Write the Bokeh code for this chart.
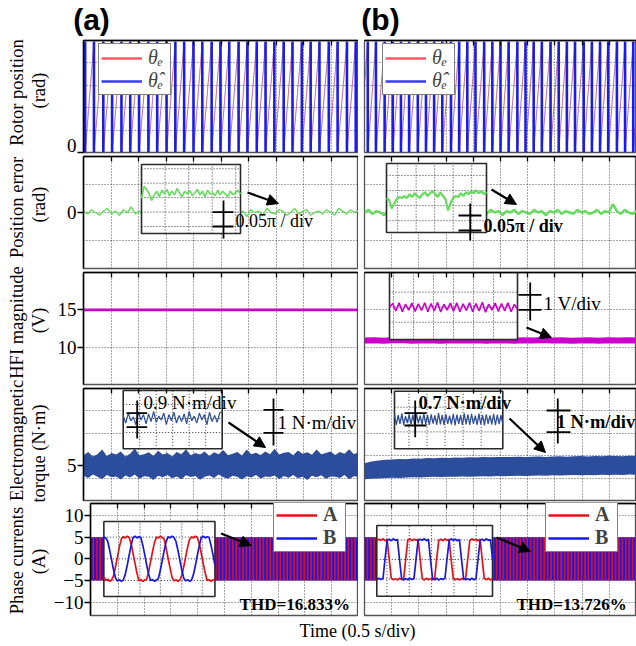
import numpy as np
from bokeh.plotting import figure
from bokeh.layouts import row, column
from bokeh.models import Range1d, FixedTicker, Label, Arrow, NormalHead, Legend, LegendItem
from bokeh.embed import file_html
from bokeh.resources import INLINE

SERIF = "Liberation Serif"
SANS = "Liberation Sans"

# ============================ data ============================
panel_titles = ["(a)", "(b)"]
row_label_1 = ["Rotor position", "Position error", "HFI magnitude", "Electromagnetic", "Phase currents"]
row_label_2 = ["(rad)", "(rad)", "(V)", "torque (N\u00b7m)", "(A)"]
x_label = "Time (0.5 s/div)"

time_span = [0.0, 5.0]
div_ticks = [0.5, 1.0, 1.5, 2.0, 2.5, 3.0, 3.5, 4.0, 4.5]

y_ranges = [[0.0, 6.35], [-0.4, 0.4], [5.0, 20.0], [3.46, 8.39], [-13.1, 12.8]]
y_ticks = [[0], [0], [10, 15], [5], [-10, -5, 0, 5, 10]]
y_grid = [[1.27, 2.54, 3.81, 5.08], [-0.2, 0.0, 0.2], [10, 15], [4.44, 5.43, 6.41, 7.40], [-10, -5, 0, 5, 10]]

# rotor position (sawtooth resets, s)
rotor_top = 6.283
rotor_drops_a = [0.03, 0.19, 0.36, 0.52, 0.69, 0.85, 1.01, 1.18, 1.34, 1.51, 1.67, 1.83, 2.00, 2.16, 2.33, 2.49,
                 2.65, 2.82, 2.98, 3.15, 3.31, 3.47, 3.64, 3.80, 3.97, 4.13, 4.29, 4.46, 4.62, 4.79, 4.95]
rotor_ends_a = [6.0, 1.9]
rotor_drops_b = [0.06, 0.21, 0.37, 0.52, 0.67, 0.82, 0.98, 1.13, 1.28, 1.43, 1.59, 1.74, 1.89, 2.04, 2.20, 2.35,
                 2.50, 2.65, 2.81, 2.96, 3.11, 3.26, 3.42, 3.57, 3.72, 3.87, 4.03, 4.18, 4.33, 4.48, 4.64, 4.79, 4.94]
rotor_ends_b = [3.8, 2.5]
rotor_legend = ["\u03b8\u2091", "\u03b8\u0302\u2091"]

# position error (rad)
perr_a = [0.01, -0.01, 0.02, 0.00, -0.02, 0.01, 0.03, -0.01, 0.01, -0.02, 0.02, 0.00, 0.04, -0.01, 0.01, -0.02,
          0.00, 0.02, -0.01, 0.01, 0.00, -0.02, 0.02, 0.01, -0.01, 0.03, 0.00, -0.02, 0.01, 0.02, -0.01, 0.00,
          0.02, -0.02, 0.01, 0.03, -0.01, 0.00, 0.02, -0.01, 0.01, -0.03, 0.02, 0.00, 0.01, -0.02, 0.03, 0.00,
          -0.01, 0.02, 0.01, -0.02, 0.00, 0.03, -0.01, 0.01, 0.02, -0.02, 0.00, 0.01, -0.01, 0.02, 0.00, -0.02,
          0.03, 0.01, -0.01, 0.02, 0.00, 0.01]
perr_b = [0.00, 0.02, -0.01, 0.01, 0.00, -0.02, 0.02, 0.01, -0.01, 0.00, 0.02, -0.01, 0.01, 0.00, -0.02, 0.01,
          0.02, 0.00, -0.01, 0.01, 0.00, 0.02, -0.01, 0.01, 0.00, -0.02, 0.01, 0.02, -0.01, 0.00, 0.01, -0.01,
          0.02, 0.00, 0.01, -0.02, 0.01, 0.00, 0.02, -0.01, 0.01, 0.00, -0.01, 0.02, 0.00, 0.01, -0.02, 0.01,
          0.00, 0.02, -0.01, 0.01, 0.00, -0.01, 0.02, 0.00, 0.01, -0.01, 0.00, 0.02, -0.01, 0.01, 0.00, 0.06,
          0.01, -0.01, 0.02, 0.00, -0.01, 0.01]
perr_in_a = [-0.01, 0.12, 0.09, 0.04, -0.03, 0.03, 0.07, 0.01, 0.08, 0.04, 0.09, 0.02, 0.07, 0.03, 0.10, 0.05,
             0.01, 0.07, 0.04, 0.08, 0.02, 0.05, 0.09, 0.03, 0.07, 0.01, 0.08, 0.04, 0.05, 0.02, 0.08, 0.03,
             0.07, 0.04, 0.01, 0.07, 0.03, 0.05, 0.08, 0.04]
perr_in_b = [0.08, 0.06, -0.03, 0.02, 0.07, 0.09, 0.08, 0.10, 0.08, 0.12, 0.09, 0.13, 0.10, 0.08, 0.12, 0.14,
             0.10, 0.13, 0.15, 0.12, 0.09, 0.14, 0.10, 0.07, -0.05, 0.03, 0.08, 0.10, 0.09, 0.13, 0.10, 0.14,
             0.12, 0.15, 0.13, 0.16, 0.13, 0.15, 0.12, 0.14]
perr_scale_text = "0.05\u03c0 / div"

# HFI magnitude (V)
hfi_a = [15.0, 15.0]
hfi_b = [10.88, 10.93, 10.86, 10.91, 10.95, 10.87, 10.90, 10.92, 10.85, 10.90, 10.94, 10.88, 10.91, 10.86, 10.93,
         10.90, 10.87, 10.92, 10.89, 10.95, 10.88, 10.91, 10.86, 10.90, 10.93, 10.87, 10.92, 10.89, 10.91, 10.90]
hfi_in_b = [11.0, 11.25, 10.75, 11.3, 10.7, 11.2, 10.8, 11.28, 10.72, 11.22, 10.78, 11.3, 10.7, 11.25, 10.75,
            11.32, 10.68, 11.2, 10.8, 11.27, 10.73, 11.3, 10.7, 11.22, 10.78, 11.3, 10.7, 11.25, 10.75, 11.33,
            10.67, 11.2, 10.8, 11.28, 10.72, 11.25, 10.75, 11.3, 10.7, 11.2, 10.85]
hfi_scale_text = "1 V/div"

# electromagnetic torque (N.m): band envelopes and inset traces
tq_hi_a = [5.45, 5.6, 5.4, 5.5, 5.7, 5.42, 5.55, 5.48, 5.62, 5.4, 5.52, 5.75, 5.45, 5.5, 5.58, 5.42, 5.65, 5.48,
           5.55, 5.4, 5.6, 5.5, 5.72, 5.45, 5.55, 5.48, 5.62, 5.42, 5.58, 5.5, 5.68, 5.45, 5.52, 5.6, 5.44, 5.7,
           5.5, 5.56, 5.46, 5.62, 5.5, 5.74, 5.48, 5.56, 5.6, 5.45, 5.66, 5.52, 5.58, 5.47, 5.7, 5.5, 5.55, 5.62,
           5.46, 5.6, 5.52, 5.72, 5.5, 5.58]
tq_lo_a = [4.55, 4.45, 4.6, 4.5, 4.4, 4.58, 4.48, 4.52, 4.38, 4.56, 4.47, 4.6, 4.42, 4.53, 4.5, 4.36, 4.55, 4.48,
           4.58, 4.44, 4.52, 4.4, 4.57, 4.49, 4.54, 4.37, 4.5, 4.56, 4.45, 4.6, 4.48, 4.42, 4.55, 4.5, 4.38, 4.53,
           4.47, 4.58, 4.43, 4.52, 4.49, 4.56, 4.4, 4.54, 4.46, 4.58, 4.44, 4.5, 4.36, 4.55, 4.48, 4.57, 4.42,
           4.52, 4.5, 4.45, 4.58, 4.4, 4.53, 4.5]
tq_hi_b = [5.10, 5.18, 5.22, 5.25, 5.27, 5.29, 5.28, 5.31, 5.30, 5.33, 5.32, 5.34, 5.33, 5.35, 5.34, 5.36, 5.35,
           5.37, 5.36, 5.38, 5.37, 5.38, 5.39, 5.37, 5.39, 5.40, 5.38, 5.40, 5.41, 5.39, 5.41, 5.42, 5.40, 5.42,
           5.41, 5.43, 5.42, 5.41, 5.43, 5.42]
tq_lo_b = [4.40, 4.42, 4.43, 4.45, 4.46, 4.45, 4.47, 4.48, 4.47, 4.49, 4.50, 4.49, 4.51, 4.50, 4.52, 4.51, 4.52,
           4.53, 4.52, 4.54, 4.53, 4.54, 4.55, 4.54, 4.55, 4.56, 4.55, 4.57, 4.56, 4.57, 4.58, 4.57, 4.58, 4.57,
           4.59, 4.58, 4.59, 4.58, 4.60, 4.59]
tq_in_a = [5.2, 4.7, 5.35, 4.85, 5.1, 4.6, 5.4, 4.9, 5.25, 4.65, 5.3, 4.8, 5.45, 4.75, 5.15, 4.9, 5.35, 4.6, 5.25,
           4.85, 5.4, 4.7, 5.2, 4.8, 5.3, 4.65, 5.45, 4.85, 5.15, 4.7, 5.35, 4.9, 5.25, 4.6, 5.4, 4.8, 5.2, 4.75,
           5.35, 5.45]
tq_in_b = [5.3, 4.7, 5.25, 4.75, 5.35, 4.68, 5.2, 4.8, 5.3, 4.72, 5.28, 4.66, 5.32, 4.78, 5.22, 4.7, 5.34, 4.74,
           5.26, 4.69, 5.3, 4.77, 5.24, 4.7, 5.36, 4.72, 5.27, 4.68, 5.31, 4.76, 5.23, 4.71, 5.33, 4.67, 5.28, 4.75,
           5.25, 4.7, 5.35, 4.73, 5.29, 4.69, 5.32, 4.76, 5.22, 4.7, 5.34, 4.72, 5.27, 4.67, 5.3, 4.75, 5.24, 4.71,
           5.33, 4.68, 5.28, 4.74, 5.26, 4.7]
tq_in_text = ["0.9 N\u00b7m/div", "0.7 N\u00b7m/div"]
tq_scale_text = "1 N\u00b7m/div"

# phase currents (A)
cur_band = [-5.0, 5.0]
cur_in_a_A = [-4.2, -5.0, -4.7, -5.2, -4.9, -3.9, -1.8, 0.5, 2.8, 4.6, 5.1, 4.8, 5.2, 4.9, 3.4, 1.2, -1.1, -3.3,
              -5.1, -4.8, -5.2, -4.9, -4.7, -2.9, -0.6, 1.7, 3.8, 5.0, 4.8, 5.2, 4.9, 4.5, 2.3, 0.0, -2.2, -4.3,
              -5.1, -4.8, -5.2, -4.9, -3.8, -1.8, 0.5, 2.7, 4.5, 5.1, 4.8, 5.2, 4.9, 3.4, 1.2, -1.1, -3.3, -5.0,
              -4.8, -5.2, -4.9, -4.7]
cur_in_a_B = [5.0, 4.8, 4.0, 2.0, -0.3, -2.6, -4.5, -5.1, -4.8, -5.2, -4.9, -3.6, -1.5, 0.9, 3.1, 4.9, 5.2, 4.8,
              5.1, 4.9, 3.1, 0.9, -1.5, -3.6, -5.0, -4.8, -5.2, -4.9, -4.5, -2.6, -0.3, 2.0, 4.0, 5.1, 4.8, 5.2,
              4.9, 4.0, 2.0, -0.3, -2.6, -4.5, -5.1, -4.8, -5.2, -4.9, -3.6, -1.5, 0.9, 3.1, 4.9, 5.2, 4.8, 5.1,
              4.9, 3.1, 0.9, -1.5]
cur_in_b_A = [4.8, 5.2, 4.9, 5.3, 4.8, 5.1, 0.2, -4.8, -5.2, -4.9, -5.3, -4.8, -5.1, -4.9, 0.1,
              5.0, 5.3, 4.8, 5.2, 4.9, 5.2, 0.0, -4.9, -5.3, -4.8, -5.2, -4.9, -5.2, -4.8, 0.3,
              4.9, 5.2, 4.8, 5.3, 4.9, 5.1, -0.2, -4.8, -5.2, -4.9, -5.3, -4.9, -5.1, -4.8, 0.0,
              4.8, 5.3, 4.9, 5.2, 4.8, 5.2, 0.1, -4.9, -5.2, -4.8, -5.3, -4.9]
cur_in_b_B = [-5.2, -4.8, -5.1, -4.9, 0.2,
              4.9, 5.2, 4.8, 5.3, 4.9, 5.1, 0.0, -4.8, -5.3, -4.9, -5.2, -4.8, -5.1, -4.9, 0.1,
              5.0, 5.2, 4.9, 5.3, 4.8, 5.2, -0.1, -4.9, -5.2, -4.8, -5.3, -4.9, -5.1, -4.8, 0.2,
              4.8, 5.3, 4.9, 5.2, 4.8, 5.1, 0.1, -4.8, -5.2, -4.9, -5.3, -4.8, -5.2, -4.9, 0.0,
              4.9, 5.2, 4.8, 5.3, 4.9, 5.1, 0.2, -4.8]
cur_legend = ["A", "B"]
thd_text = ["THD=16.833%", "THD=13.726%"]

# ================================ styling / layout ================================
ROT_RED, ROT_BLUE = "#f2404f", "#1c1ce8"
LEG_RED, LEG_BLUE = "#ff5a64", "#3a3aff"
GREEN = "#64dc5c"
MAGENTA = "#cc00cc"
TQ_BLUE = "#2c4c9c"
CUR_RED, CUR_BLUE = "#e51018", "#1818e0"

LAB_W, HEAD_H, FOOT_H = 50, 39, 29
FIG_W = [308, 278]
BORDER_L = [33, 6]
ROW_H = [116, 116, 116, 115, 115]
COLX = [(83, 358), (364, 636)]
ROWY = [(40, 152), (156, 268), (272, 384), (388, 500), (503, 615)]


def dx(c, px):
    x0, x1 = COLX[c]
    return time_span[0] + (px - x0) / (x1 - x0) * (time_span[1] - time_span[0])


def dy(r, py):
    top, bot = ROWY[r]
    lo, hi = y_ranges[r]
    return hi - (py - top) / (bot - top) * (hi - lo)


def make_panel(c, r):
    lo, hi = y_ranges[r]
    fig_top = HEAD_H + sum(ROW_H[:r])
    p = figure(width=FIG_W[c], height=ROW_H[r], x_range=Range1d(*time_span), y_range=Range1d(lo, hi),
               x_axis_location="above", y_axis_location="left", tools="", toolbar_location=None,
               output_backend="svg", min_border_left=BORDER_L[c], min_border_right=0,
               min_border_top=ROWY[r][0] - fig_top, min_border_bottom=fig_top + ROW_H[r] - ROWY[r][1],
               background_fill_color="white", border_fill_color="white",
               outline_line_color="#555555", outline_line_width=1.3)
    xa = p.xaxis[0]
    xa.ticker = FixedTicker(ticks=div_ticks, minor_ticks=[])
    xa.major_tick_in = 5
    xa.major_tick_out = 0
    xa.major_label_text_font_size = "1px"
    xa.major_label_text_alpha = 0
    xa.major_label_standoff = 0
    xa.axis_line_color = "black"
    xa.axis_line_width = 1.3
    xa.major_tick_line_color = "black"
    xa.major_tick_line_width = 1.3
    ya = p.yaxis[0]
    ya.ticker = FixedTicker(ticks=y_ticks[r], minor_ticks=[])
    if c == 0:
        ya.major_tick_in = 0
        ya.major_tick_out = 6
        ya.major_label_standoff = 1
        ya.major_label_text_font = SERIF
        ya.major_label_text_font_size = "19px"
        ya.major_label_text_color = "black"
        ya.axis_line_color = "black"
        ya.axis_line_width = 1.5
        ya.major_tick_line_color = "black"
        ya.major_tick_line_width = 1.5
    else:
        ya.visible = False
    p.xgrid.ticker = FixedTicker(ticks=div_ticks)
    p.ygrid.ticker = FixedTicker(ticks=y_grid[r])
    p.grid.grid_line_color = "#333333"
    p.grid.grid_line_dash = "1 2"
    p.grid.grid_line_width = 1
    p.grid.grid_line_alpha = 0.85
    return p


def add_inset(p, c, r, box, ixr, iyr, gx, gy):
    left, right, top, bottom = box
    bx0, bx1 = dx(c, left), dx(c, right)
    by0, by1 = dy(r, bottom), dy(r, top)
    lo, hi = y_ranges[r]
    sx = (ixr[1] - ixr[0]) / (bx1 - bx0)
    sy = (iyr[1] - iyr[0]) / (by1 - by0)
    p.extra_x_ranges = {"ix": Range1d(ixr[0] - (bx0 - time_span[0]) * sx, ixr[0] + (time_span[1] - bx0) * sx)}
    p.extra_y_ranges = {"iy": Range1d(iyr[0] - (by0 - lo) * sy, iyr[0] + (hi - by0) * sy)}
    kw = dict(x_range_name="ix", y_range_name="iy")
    p.quad(left=[ixr[0]], right=[ixr[1]], bottom=[iyr[0]], top=[iyr[1]], fill_color="white",
           line_color="#2a2a2a", line_width=1.6, **kw)
    p.segment(x0=gx, y0=[iyr[0]] * len(gx), x1=gx, y1=[iyr[1]] * len(gx), line_color="#333333",
              line_dash="1 2", line_width=1, **kw)
    p.segment(x0=[ixr[0]] * len(gy), y0=gy, x1=[ixr[1]] * len(gy), y1=gy, line_color="#333333",
              line_dash="1 2", line_width=1, **kw)
    return kw


def scale_marker(p, c, r, vx, vy0, vy1, bx0, bx1, bars):
    p.segment(x0=[dx(c, vx)], y0=[dy(r, vy0)], x1=[dx(c, vx)], y1=[dy(r, vy1)], line_color="black", line_width=1.8)
    p.segment(x0=[dx(c, bx0)] * len(bars), y0=[dy(r, b) for b in bars], x1=[dx(c, bx1)] * len(bars),
              y1=[dy(r, b) for b in bars], line_color="black", line_width=1.8)


def txt(p, c, r, px, py, s, size="19px", bold=False):
    p.add_layout(Label(x=dx(c, px), y=dy(r, py), text=s, text_font=SERIF, text_font_size=size,
                       text_font_style="bold" if bold else "normal", text_align="left",
                       text_baseline="middle", text_color="black"))


def arrow(p, c, r, x0, y0, x1, y1):
    p.add_layout(Arrow(x_start=dx(c, x0), y_start=dy(r, y0), x_end=dx(c, x1), y_end=dy(r, y1),
                       line_color="black", line_width=2.2,
                       end=NormalHead(size=11, fill_color="black", line_color="black", line_width=1)))


def add_legend(p, r, labels, colors, loc, font, style, size):
    items = []
    lo = y_ranges[r][0]
    for lab, col in zip(labels, colors):
        # one-sample proxy renderer (draws nothing by itself) that gives the legend its line style
        rr = p.line(x=[time_span[0]], y=[lo], line_color=col, line_width=2.6)
        items.append(LegendItem(label=lab, renderers=[rr]))
    p.add_layout(Legend(items=items, location=loc, orientation="vertical", label_text_font=font,
                        label_text_font_size=size, label_text_font_style=style, glyph_width=41,
                        glyph_height=18, label_height=18, label_standoff=6, padding=2, spacing=0, margin=0,
                        border_line_color="black", border_line_width=1.3, background_fill_color="white",
                        background_fill_alpha=1.0), "center")


def sawtooth(drops, ends):
    xs, ys = [time_span[0]], [ends[0]]
    for t in drops:
        xs += [t, t]
        ys += [rotor_top, 0.0]
    xs.append(time_span[1])
    ys.append(ends[1])
    return xs, ys


panels = [[make_panel(c, r) for c in range(2)] for r in range(5)]

# ---- row 1: rotor position ----
for c, (drops, ends, loc) in enumerate([(rotor_drops_a, rotor_ends_a, (15, 57)),
                                        (rotor_drops_b, rotor_ends_b, (18, 57))]):
    p = panels[0][c]
    xs, ys = sawtooth(drops, ends)
    p.line(xs, ys, line_color=ROT_RED, line_width=1.0, line_alpha=0.55)
    p.line(xs, ys, line_color=ROT_BLUE, line_width=0.8, line_alpha=0.35)
    p.segment(x0=drops, y0=[0.0] * len(drops), x1=drops, y1=[rotor_top] * len(drops),
              line_color=ROT_BLUE, line_width=2.6)
    add_legend(p, 0, rotor_legend, [LEG_RED, LEG_BLUE], loc, SERIF, "italic", "20px")

# ---- row 2: position error ----
p = panels[1][0]
p.line(np.linspace(*time_span, len(perr_a)), perr_a, line_color=GREEN, line_width=1.4)
kw = add_inset(p, 0, 1, (141, 240, 164, 233), (0.0, 4.2), (-0.39, 0.36), [1, 2, 3, 4],
               [-0.314, -0.157, 0.0, 0.157, 0.314])
p.line(np.linspace(0.0, 4.2, len(perr_in_a)), perr_in_a, line_color=GREEN, line_width=1.6, **kw)
scale_marker(p, 0, 1, 223, 200, 238, 212, 233, [211.7, 226])
txt(p, 0, 1, 235, 220.7, perr_scale_text, "18px")
arrow(p, 0, 1, 247, 192, 278, 203)

p = panels[1][1]
p.line(np.linspace(*time_span, len(perr_b)), perr_b, line_color=GREEN, line_width=2.4)
kw = add_inset(p, 1, 1, (386, 486, 163, 232), (0.0, 5.4), (-0.28, 0.44), [0.6, 1.6, 2.6, 3.6, 4.6],
               [-0.157, 0.0, 0.157, 0.314])
p.line(np.linspace(0.0, 5.4, len(perr_in_b)), perr_in_b, line_color=GREEN, line_width=2.2, **kw)
scale_marker(p, 1, 1, 469.7, 203, 240, 458, 481, [215, 230])
txt(p, 1, 1, 483, 225, perr_scale_text, "18px", bold=True)
arrow(p, 1, 1, 491, 189, 516, 204)

# ---- row 3: HFI magnitude ----
p = panels[2][0]
p.line(time_span, hfi_a, line_color=MAGENTA, line_width=2.6)

p = panels[2][1]
p.line(np.linspace(*time_span, len(hfi_b)), hfi_b, line_color=MAGENTA, line_width=6)
kw = add_inset(p, 1, 2, (389, 517, 272, 339), (0.0, 6.4), (8.85, 13.31), [0.2, 1.2, 2.2, 3.2, 4.2, 5.2],
               [10.0, 11.0, 12.0])
p.line(np.linspace(0.0, 6.4, len(hfi_in_b)), hfi_in_b, line_color=MAGENTA, line_width=1.6, **kw)
scale_marker(p, 1, 2, 529.7, 282, 320, 518, 541, [294.3, 309.3])
txt(p, 1, 2, 543, 303, hfi_scale_text, "19px")
arrow(p, 1, 2, 526, 327, 551, 337)

# ---- row 4: electromagnetic torque ----
p = panels[3][0]
p.varea(x=np.linspace(*time_span, len(tq_hi_a)), y1=tq_lo_a, y2=tq_hi_a, fill_color=TQ_BLUE)
kw = add_inset(p, 0, 3, (122.7, 221.7, 390, 448.3), (0.0, 6.0), (3.05, 6.8), [1, 2, 3, 4, 5],
               [4.1, 5.0, 5.9])
p.line(np.linspace(0.0, 6.0, len(tq_in_a)), tq_in_a, line_color=TQ_BLUE, line_width=1.2, **kw)
scale_marker(p, 0, 3, 136.7, 400, 438, 126, 146.7, [412.7, 426.7])
txt(p, 0, 3, 143, 401.7, tq_in_text[0], "19px")
scale_marker(p, 0, 3, 273, 398, 445, 263, 283, [409.3, 432.3])
txt(p, 0, 3, 277, 421.7, tq_scale_text, "19px")
arrow(p, 0, 3, 228, 422, 265, 447)

p = panels[3][1]
p.varea(x=np.linspace(*time_span, len(tq_hi_b)), y1=tq_lo_b, y2=tq_hi_b, fill_color=TQ_BLUE)
kw = add_inset(p, 1, 3, (394, 502.3, 390.7, 448.3), (0.0, 6.0), (3.34, 6.61), [0.8, 1.8, 2.8, 3.8, 4.8],
               [4.3, 5.0, 5.7])
p.line(np.linspace(0.0, 6.0, len(tq_in_b)), tq_in_b, line_color=TQ_BLUE, line_width=1.2, **kw)
scale_marker(p, 1, 3, 414.7, 400, 436.7, 404, 426, [412.7, 425])
txt(p, 1, 3, 418, 402.7, tq_in_text[1], "18.5px", bold=True)
scale_marker(p, 1, 3, 557.3, 398, 443, 546, 570, [410, 431.7])
txt(p, 1, 3, 556, 421.7, tq_scale_text, "18.5px", bold=True)
arrow(p, 1, 3, 509, 418, 545, 452)

# ---- row 5: phase currents ----
cur_cfg = [
    dict(box=(96.7, 210.7, 521, 596), iyr=(-8.7, 8.6), gx=[15, 37, 58, 80, 101], A=cur_in_a_A, B=cur_in_a_B,
         arrow=(217, 533, 248, 545), leg=(183, 63), thd_x=236),
    dict(box=(376.3, 492, 525, 595.7), iyr=(-9.4, 8.7), gx=[10, 32, 54, 76, 98], A=cur_in_b_A, B=cur_in_b_B,
         arrow=(496, 537, 530, 551), leg=(181, 63), thd_x=516),
]
for c, cfg in enumerate(cur_cfg):
    p = panels[4][c]
    p.quad(left=[time_span[0]], right=[time_span[1]], bottom=[cur_band[0]], top=[cur_band[1]],
           fill_color=CUR_BLUE, line_color=None, hatch_pattern="|", hatch_color=CUR_RED,
           hatch_scale=3.4, hatch_weight=1.7, hatch_alpha=1.0)
    kw = add_inset(p, c, 4, cfg["box"], (0.0, 114.0), cfg["iyr"], cfg["gx"], [-5.0, 0.0, 5.0])
    t_in = np.linspace(0.0, 114.0, len(cfg["A"]))
    p.line(t_in, cfg["A"], line_color=CUR_RED, line_width=1.7, **kw)
    p.line(t_in, cfg["B"], line_color=CUR_BLUE, line_width=1.7, **kw)
    arrow(p, c, 4, *cfg["arrow"])
    add_legend(p, 4, cur_legend, [CUR_RED, CUR_BLUE], cfg["leg"], SERIF, "bold", "20px")
    txt(p, c, 4, cfg["thd_x"], 604, thd_text[c], "17px", bold=True)


# ---- frame figures: row labels, panel titles, time label ----
def blank(width, height, xr, yr):
    f = figure(width=width, height=height, x_range=Range1d(*xr), y_range=Range1d(*yr), tools="",
               toolbar_location=None, output_backend="svg", min_border=0, outline_line_color=None,
               background_fill_color="white", border_fill_color="white")
    f.axis.visible = False
    f.grid.visible = False
    return f


lab = blank(LAB_W, 646, (0, LAB_W), (646, 0))
centers_1 = [92, 207, 322, 440, 560]
centers_2 = [90, 204, 320, 453, 561]
for r in range(5):
    lab.add_layout(Label(x=16, y=centers_1[r], text=row_label_1[r], angle=np.pi / 2, text_align="center",
                         text_baseline="middle", text_font=SERIF, text_font_size="18.5px", text_color="black"))
    lab.add_layout(Label(x=38, y=centers_2[r], text=row_label_2[r], angle=np.pi / 2, text_align="center",
                         text_baseline="middle", text_font=SERIF, text_font_size="18.5px", text_color="black"))

head = blank(636 - LAB_W, HEAD_H, (LAB_W, 636), (HEAD_H, 0))
for s, xc in zip(panel_titles, [91, 380]):
    head.add_layout(Label(x=xc, y=19, text=s, text_align="center", text_baseline="middle", text_font=SANS,
                          text_font_size="30px", text_font_style="bold", text_color="black"))

foot = blank(636 - LAB_W, FOOT_H, (LAB_W, 636), (646, 646 - FOOT_H))
foot.add_layout(Label(x=357, y=630, text=x_label, text_align="center", text_baseline="middle",
                      text_font=SERIF, text_font_size="18px", text_color="black"))

right = column(head, *[row(panels[r][0], panels[r][1]) for r in range(5)], foot)
layout = row(lab, right)

open("out.html", "w").write(file_html(layout, INLINE, "Rotor position and currents"))
